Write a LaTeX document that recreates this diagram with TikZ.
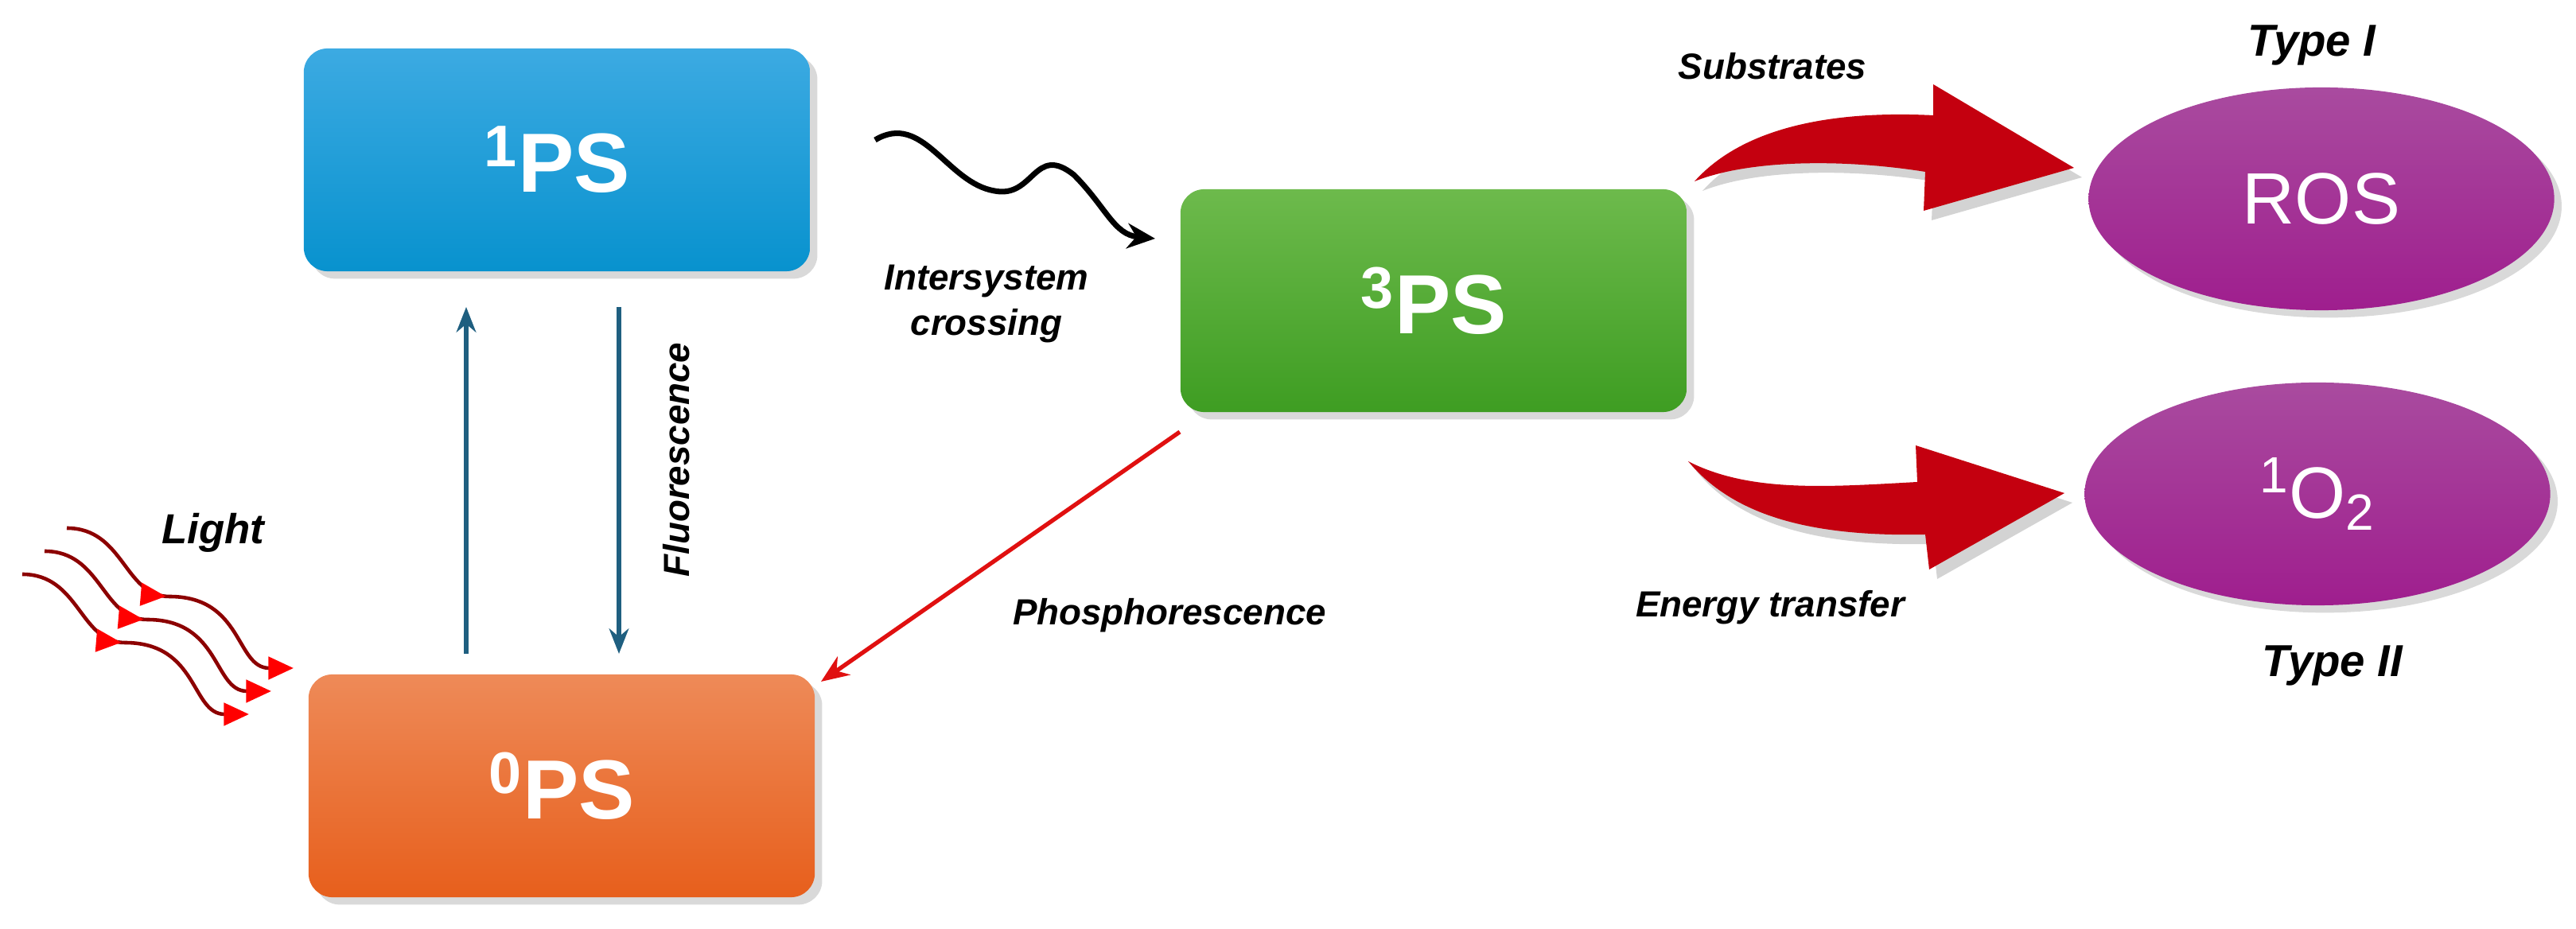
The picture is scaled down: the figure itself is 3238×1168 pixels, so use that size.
\documentclass[tikz,border=0pt]{standalone}
\usepackage{fontspec}
\setmainfont{Liberation Sans}
\usetikzlibrary{shapes.geometric,shadows,arrows.meta,calc,decorations.markings}
\definecolor{bA}{HTML}{3CAAE2}\definecolor{bB}{HTML}{0892CE}
\definecolor{gA}{HTML}{6DBA4C}\definecolor{gB}{HTML}{3E9D22}
\definecolor{oA}{HTML}{EE8A58}\definecolor{oB}{HTML}{E75F1C}
\definecolor{pA}{HTML}{A94B9F}\definecolor{pB}{HTML}{9F1E8E}
\definecolor{arrblue}{HTML}{1F5F80}
\definecolor{bigred}{HTML}{C4000F}
\definecolor{lred}{HTML}{E01010}
\tikzset{
 box/.style={rounded corners=0.3cm,minimum width=6.36cm,minimum height=2.8cm,
   text=white,font=\fontsize{30}{30}\selectfont\bfseries,drop shadow={opacity=0.3}},
 ell/.style={ellipse,minimum width=5.85cm,minimum height=2.8cm,top color=pA,bottom color=pB,
   text=white,font=\fontsize{26}{26}\selectfont,drop shadow={opacity=0.3}},
 lbl/.style={font=\fontsize{13}{16}\selectfont\bfseries\itshape,align=center},
 tlbl/.style={font=\fontsize{16}{16}\selectfont\bfseries\itshape},
 varr/.style={arrblue,line width=1.6pt,-{Stealth[length=9pt,width=7pt]}},
 lightw/.style={draw=red!55!black,line width=1.3pt,-{Triangle[red,length=9pt,width=8pt]},
   decoration={markings,mark=at position 0.45 with {\arrow[red]{Triangle[length=9pt,width=8pt]}}},
   postaction={decorate}},
}
\begin{document}
\begin{tikzpicture}[x=0.01cm,y=-0.01cm]
\useasboundingbox (0,0) rectangle (3238,1168);
\node[box,top color=bA,bottom color=bB] (s1) at (700,201) {\textsuperscript{1}PS};
\node[box,top color=oA,bottom color=oB] (s0) at (706,988) {\textsuperscript{0}PS};
\node[box,top color=gA,bottom color=gB] (s3) at (1802,378) {\textsuperscript{3}PS};
\node[ell] (ros) at (2918,250) {ROS};
\node[ell] (o2) at (2913,621) {\textsuperscript{1}O\textsubscript{2}};
% vertical arrows
\draw[varr] (586,822) -- (586,386);
\draw[varr] (778,386) -- (778,822);
\node[lbl,rotate=90] (fl) at (850,578) {Fluorescence};
% phosphorescence
\coordinate (p1) at (1483,543);
\coordinate (p0) at (1032,857);
\draw[lred,line width=1.5pt,-{Stealth[length=10pt,width=8pt]}] (p1) -- (p0);
\node[lbl] (ph) at (1470,774) {Phosphorescence};
% wavy ISC
\coordinate (w0) at (1100,176);
\coordinate (w1) at (1452,300);
\draw[black,line width=2pt,-{Stealth[length=10pt,width=9pt]}] (w0) .. controls (1160,140) and (1190,230) .. (1250,240)
  .. controls (1300,250) and (1300,180) .. (1350,220) .. controls (1390,260) and (1400,295) .. (w1);
\node[lbl] (isc) at (1240,382) {Intersystem\\crossing};
% light
\node[lbl,font=\fontsize{15}{16}\selectfont\bfseries\itshape] (light) at (268,670) {Light};
\foreach \dx/\dy in {0/0,28/-29,56/-58}{
 \draw[lightw]
   (28+\dx,722+\dy) .. controls (100+\dx,722+\dy) and (100+\dx,808+\dy) .. (157+\dx,808+\dy)
   .. controls (250+\dx,808+\dy) and (240+\dx,898+\dy) .. (313+\dx,898+\dy);
}
% big red arrows
\fill[bigred,drop shadow={opacity=0.35,shadow xshift=0.1cm,shadow yshift=-0.12cm}]
  (2130,228) .. controls (2200,150) and (2330,140) .. (2430,145) -- (2430,106) -- (2607,211) -- (2418,265) -- (2420,216)
  .. controls (2320,200) and (2200,200) .. (2130,228) -- cycle;
\fill[bigred,drop shadow={opacity=0.35,shadow xshift=0.1cm,shadow yshift=-0.12cm}]
  (2122,580) .. controls (2200,620) and (2300,612) .. (2410,606) -- (2408,560) -- (2595,620) -- (2425,716) -- (2420,672)
  .. controls (2280,675) and (2180,650) .. (2122,580) -- cycle;
\node[lbl] (sub) at (2228,83) {Substrates};
\node[lbl] (et) at (2225,764) {Energy transfer};
\node[tlbl] (t1) at (2906,57) {Type I};
\node[tlbl] (t2) at (2932,837) {Type II};
\end{tikzpicture}
\end{document}
